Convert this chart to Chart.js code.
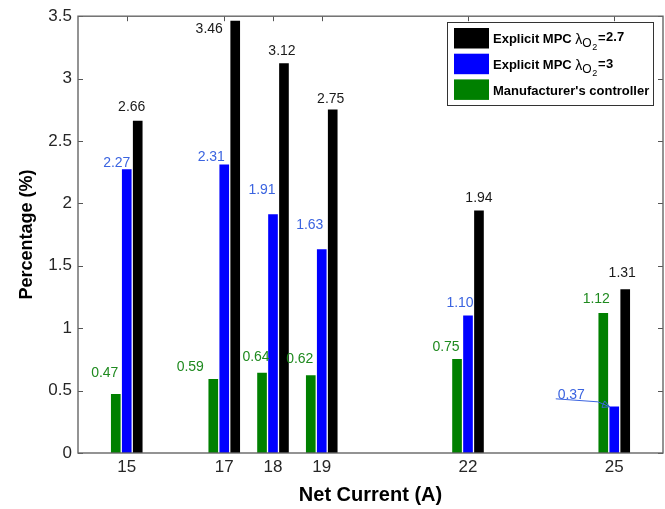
<!DOCTYPE html>
<html><head><meta charset="utf-8">
<script src="https://cdn.jsdelivr.net/npm/chart.js@4.4.1/dist/chart.umd.min.js"></script>
<style>html,body{margin:0;padding:0;background:#fff}#wrap{width:665px;height:509px}</style>
</head><body><div id="wrap"><canvas id="c" width="665" height="509"></canvas></div>
<script>
// ---- data ----
const currents = [15, 17, 18, 19, 22, 25];
const manufacturer = [0.47, 0.59, 0.64, 0.62, 0.75, 1.12];
const mpc3 = [2.27, 2.31, 1.91, 1.63, 1.10, 0.37];
const mpc27 = [2.66, 3.46, 3.12, 2.75, 1.94, 1.31];
const yTickValues = [0, 0.5, 1, 1.5, 2, 2.5, 3, 3.5];
const valueText = [
  ['0.47','0.59','0.64','0.62','0.75','1.12'],
  ['2.27','2.31','1.91','1.63','1.10','0.37'],
  ['2.66','3.46','3.12','2.75','1.94','1.31']
];

// ---- style ----
const FONT = "'Liberation Sans', Arial, Helvetica, sans-serif";
const barColors = ['#008000', '#0000ff', '#000000'];
const labelColors = ['#1f8a1f', '#3b64e0', '#1a1a1a'];
const groupOffset = [-0.225, 0, 0.225];          // in x-axis units
// pixel nudges of value labels relative to bar centre/top [dx, dy]
const labelNudge = [
  [[-11,-21],[-23,-12],[-6,-16],[-11,-16],[-11,-12],[-7,-14]],
  [[-10,-7],[-13,-8],[-11,-24],[-12,-24],[-8,-13],[-43,-12]],
  [[-6,-14],[-26,8],[-2,-12],[-2,-11],[0,-13],[-3,-16]]
];

const series = [manufacturer, mpc3, mpc27];
const datasets = series.map((vals, s) => ({
  label: ['Manufacturer\'s controller', 'Explicit MPC λO2=3', 'Explicit MPC λO2=2.7'][s],
  data: currents.map((c, i) => ({x: c + groupOffset[s], y: vals[i]})),
  backgroundColor: barColors[s],
  borderWidth: 0,
  barThickness: 9,
  grouped: false
}));

const decor = {
  id: 'decor',
  beforeDatasetsDraw(chart) {
    const {ctx, chartArea: a, scales: {x, y}} = chart;
    ctx.save();
    ctx.strokeStyle = '#555';
    ctx.lineWidth = 1;
    ctx.beginPath();
    yTickValues.forEach(v => {
      const py = Math.round(y.getPixelForValue(v)) + 0.5;
      ctx.moveTo(a.left, py); ctx.lineTo(a.left + 5, py);
      ctx.moveTo(a.right, py); ctx.lineTo(a.right - 5, py);
    });
    currents.forEach(v => {
      const px = Math.round(x.getPixelForValue(v)) + 0.5;
      ctx.moveTo(px, a.top); ctx.lineTo(px, a.top + 5);
      ctx.moveTo(px, a.bottom); ctx.lineTo(px, a.bottom - 5);
    });
    ctx.stroke();
    ctx.restore();
  },
  afterDatasetsDraw(chart) {
    const {ctx, chartArea: a} = chart;
    ctx.save();
    // frame
    ctx.strokeStyle = '#666';
    ctx.lineWidth = 1.4;
    ctx.strokeRect(a.left, a.top, a.right - a.left, a.bottom - a.top);
    // value labels
    ctx.font = '14px ' + FONT;
    ctx.textAlign = 'center';
    ctx.textBaseline = 'middle';
    chart.data.datasets.forEach((ds, s) => {
      const meta = chart.getDatasetMeta(s);
      meta.data.forEach((el, i) => {
        const [dx, dy] = labelNudge[s][i];
        ctx.fillStyle = labelColors[s];
        ctx.fillText(valueText[s][i], el.x + dx, el.y + dy);
      });
    });
    // callout arrow for the small blue bar at the last current
    const el = chart.getDatasetMeta(1).data[5];
    const tipX = el.x - el.width / 2, tipY = el.y;
    ctx.strokeStyle = '#3b64e0';
    ctx.lineWidth = 1;
    ctx.beginPath();
    ctx.moveTo(tipX - 54, tipY - 8);
    ctx.lineTo(tipX - 12, tipY - 5);
    ctx.lineTo(tipX, tipY);
    ctx.stroke();
    // open arrow head
    const ang = Math.atan2(5, 12);
    const L = 7, W = 3.5;
    const bx = tipX - L * Math.cos(ang), by = tipY - L * Math.sin(ang);
    ctx.beginPath();
    ctx.moveTo(tipX, tipY);
    ctx.lineTo(bx + W * Math.sin(ang), by - W * Math.cos(ang));
    ctx.lineTo(bx - W * Math.sin(ang), by + W * Math.cos(ang));
    ctx.closePath();
    ctx.stroke();
    ctx.restore();
  },
  afterDraw(chart) {
    const {ctx} = chart;
    ctx.save();
    const bx = 447, by = 22, bw = 206, bh = 83;
    ctx.fillStyle = '#fff';
    ctx.fillRect(bx, by, bw, bh);
    ctx.strokeStyle = '#333';
    ctx.lineWidth = 1;
    ctx.strokeRect(bx + 0.5, by + 0.5, bw, bh);
    const rows = [
      {c: barColors[2], parts: [['Explicit MPC ', 'bold 13px', 0], ['λ', '14px', 1], ['O', '12px', 4], ['2', '9px', 7], ['=', 'bold 13px', -1], ['2.7', 'bold 13px', -2]]},
      {c: barColors[1], parts: [['Explicit MPC ', 'bold 13px', 0], ['λ', '14px', 1], ['O', '12px', 4], ['2', '9px', 7], ['=', 'bold 13px', -1], ['3', 'bold 13px', -1]]},
      {c: barColors[0], parts: [['Manufacturer\'s controller', 'bold 13px', 0]]}
    ];
    rows.forEach((r, k) => {
      const sy = 28 + k * 25.7;
      ctx.fillStyle = r.c;
      ctx.fillRect(454, sy, 35, 20.5);
      let tx = 493;
      const base = 43.3 + k * 25.8;
      ctx.textAlign = 'left';
      ctx.textBaseline = 'alphabetic';
      ctx.fillStyle = '#000';
      r.parts.forEach(([t, f, dy]) => {
        ctx.font = f + ' ' + FONT;
        ctx.fillText(t, tx, base + dy);
        tx += ctx.measureText(t).width + (t === 'λ' || t === 'Explicit MPC ' ? 0 : 0.6);
      });
    });
    ctx.restore();
  }
};

new Chart(document.getElementById('c'), {
  type: 'bar',
  data: {datasets},
  options: {
    responsive: false,
    animation: false,
    devicePixelRatio: 1,
    layout: {padding: {top: 14, right: 2, left: 0, bottom: 0}},
    plugins: {legend: {display: false}, tooltip: {enabled: false}},
    scales: {
      x: {
        type: 'linear',
        min: 14, max: 26,
        offset: false,
        grid: {display: false, drawTicks: false},
        border: {display: false},
        afterBuildTicks(axis) { axis.ticks = currents.map(v => ({value: v})); },
        afterFit(axis) { axis.height = 56; },
        ticks: {color: '#262626', font: {family: FONT, size: 17}, padding: 4, maxRotation: 0, autoSkip: false,
                callback: v => String(v)},
        title: {display: true, text: 'Net Current (A)', color: '#000',
                font: {family: FONT, size: 20, weight: 'bold', lineHeight: 1}, padding: {top: 0, bottom: 4}}
      },
      y: {
        min: 0, max: 3.5,
        grid: {display: false, drawTicks: false},
        border: {display: false},
        afterBuildTicks(axis) { axis.ticks = yTickValues.map(v => ({value: v})); },
        afterFit(axis) { axis.width = 78; },
        ticks: {color: '#262626', font: {family: FONT, size: 17}, padding: 6, callback: v => String(v)},
        title: {display: true, text: 'Percentage (%)', color: '#000',
                font: {family: FONT, size: 18, weight: 'bold', lineHeight: 1}, padding: {top: 18, bottom: 0}}
      }
    }
  },
  plugins: [decor]
});
</script>
</body></html>
